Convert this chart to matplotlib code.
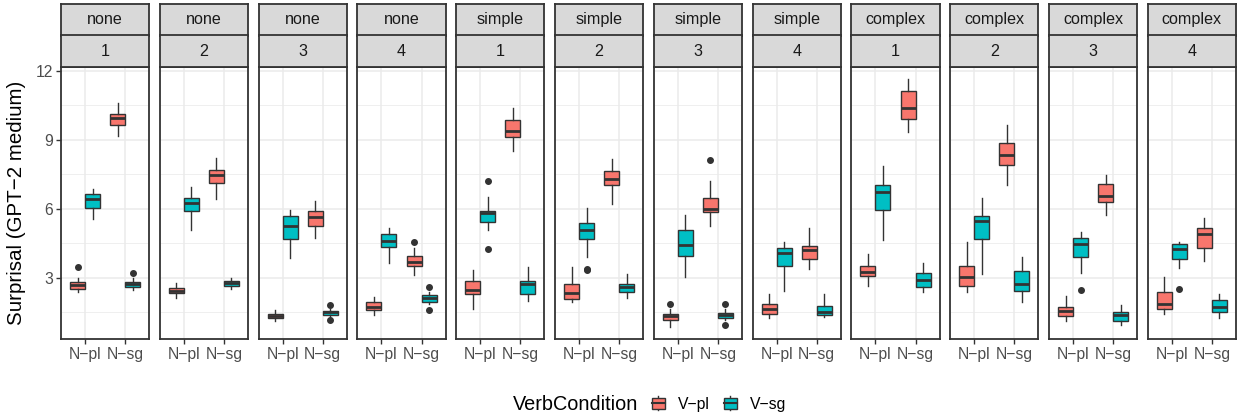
import matplotlib
matplotlib.use("Agg")
import matplotlib.pyplot as plt
from matplotlib.patches import Rectangle
from matplotlib.lines import Line2D
from matplotlib.legend_handler import HandlerBase

plt.rcParams['font.family'] = ['Liberation Sans', 'DejaVu Sans']

# facets
contexts = ['none'] * 4 + ['simple'] * 4 + ['complex'] * 4
numbers = ['1', '2', '3', '4'] * 3
noun_levels = ['N\u2212pl', 'N\u2212sg']
verb_levels = ['V\u2212pl', 'V\u2212sg']
verb_colors = ['#F8766D', '#00BFC4']

# box stats per facet: (whislo, q1, median, q3, whishi)
npl_vpl = [(2.35, 2.52, 2.67, 2.81, 2.96), (2.12, 2.32, 2.42, 2.55, 2.77),
           (1.11, 1.22, 1.32, 1.40, 1.58), (1.36, 1.58, 1.70, 1.94, 2.16),
           (1.61, 2.30, 2.45, 2.84, 3.35), (1.93, 2.06, 2.33, 2.70, 3.47),
           (0.85, 1.17, 1.32, 1.43, 1.65), (1.22, 1.43, 1.61, 1.84, 2.30),
           (2.64, 3.09, 3.25, 3.51, 4.02), (2.38, 2.62, 3.03, 3.49, 4.55),
           (1.11, 1.33, 1.54, 1.70, 2.19), (1.40, 1.61, 1.87, 2.38, 3.03)]
npl_vsg = [(5.54, 6.05, 6.41, 6.66, 6.88), (5.06, 5.89, 6.27, 6.48, 6.95),
           (3.86, 4.66, 5.24, 5.67, 5.93), (3.64, 4.33, 4.58, 4.92, 5.18),
           (5.06, 5.43, 5.82, 5.90, 6.51), (3.90, 4.67, 5.06, 5.38, 6.05),
           (3.03, 3.94, 4.44, 5.06, 5.72), (2.41, 3.51, 4.05, 4.31, 4.53),
           (4.63, 5.96, 6.73, 7.02, 7.86), (3.15, 4.67, 5.47, 5.70, 6.48),
           (3.22, 3.90, 4.48, 4.73, 4.99), (3.42, 3.79, 4.26, 4.48, 4.55)]
nsg_vpl = [(9.17, 9.66, 9.95, 10.14, 10.62), (6.41, 7.14, 7.46, 7.67, 8.20),
           (4.74, 5.25, 5.64, 5.88, 6.34), (3.10, 3.52, 3.68, 3.96, 4.29),
           (8.52, 9.13, 9.39, 9.88, 10.40), (6.22, 7.05, 7.31, 7.63, 8.18),
           (5.25, 5.86, 6.01, 6.48, 7.21), (3.39, 3.79, 4.20, 4.38, 5.14),
           (9.34, 9.91, 10.40, 11.11, 11.64), (7.05, 7.89, 8.33, 8.87, 9.63),
           (5.74, 6.30, 6.56, 7.07, 7.46), (3.71, 4.31, 4.92, 5.16, 5.60)]
nsg_vsg = [(2.48, 2.57, 2.70, 2.81, 2.96), (2.51, 2.65, 2.75, 2.87, 2.96),
           (1.29, 1.39, 1.48, 1.55, 1.65), (1.84, 1.94, 2.09, 2.22, 2.38),
           (1.99, 2.30, 2.70, 2.84, 3.47), (2.09, 2.35, 2.57, 2.70, 3.15),
           (1.14, 1.25, 1.36, 1.46, 1.65), (1.29, 1.36, 1.51, 1.75, 2.28),
           (2.38, 2.57, 2.91, 3.22, 3.65), (1.94, 2.42, 2.71, 3.28, 3.90),
           (0.93, 1.11, 1.36, 1.48, 1.80), (1.22, 1.48, 1.70, 2.04, 2.28)]

# outliers per facet
npl_vpl_out = [[3.44], [], [], [], [], [], [1.84], [], [], [], [], []]
npl_vsg_out = [[], [], [], [], [7.22, 4.26], [3.39, 3.32], [], [], [], [], [2.48], [2.52]]
nsg_vpl_out = [[], [], [], [4.57], [], [], [8.11], [], [], [], [], []]
nsg_vsg_out = [[3.18], [], [1.80, 1.17], [2.57, 1.58], [], [], [1.84, 0.93], [], [], [], [], []]

groups = [(npl_vpl, npl_vpl_out, 0, 0), (npl_vsg, npl_vsg_out, 0, 1),
          (nsg_vpl, nsg_vpl_out, 1, 0), (nsg_vsg, nsg_vsg_out, 1, 1)]

W, H = 1242, 417
fig = plt.figure(figsize=(W / 100, H / 100), dpi=100)

panel_left, panel_right = 61, 1236
gap = 10.6
pw = (panel_right - panel_left - 11 * gap) / 12
p_top, p_bot = 66.7, 339.3
s_top, s_mid = 4.0, 35.5

edge = '#333333'
box_w = 0.375

def fx(px):
    return px / W

def fy(py):
    return 1 - py / H

for i in range(12):
    x0 = panel_left + i * (pw + gap)
    ax = fig.add_axes([fx(x0), fy(p_bot), pw / W, (p_bot - p_top) / H])
    ax.set_facecolor('white')
    ax.set_xlim(0.4, 2.6)
    ax.set_ylim(0.31, 12.19)
    ax.set_yticks([3, 6, 9, 12])
    ax.set_yticks([1.5, 4.5, 7.5, 10.5], minor=True)
    ax.set_xticks([1, 2])
    ax.set_xticklabels(noun_levels)
    ax.grid(which='major', color='#EBEBEB', linewidth=1.1, zorder=0)
    ax.grid(which='minor', axis='y', color='#EBEBEB', linewidth=0.55, zorder=0)
    ax.set_axisbelow(True)
    ax.tick_params(which='minor', length=0)
    ax.tick_params(which='major', length=3.5, width=1.0, color=edge,
                   labelcolor='#4D4D4D', labelsize=11.3, pad=2)
    if i > 0:
        ax.tick_params(axis='y', length=0, labelleft=False)
    for sp in ax.spines.values():
        sp.set_color(edge)
        sp.set_linewidth(1.3)

    for stats_list, out_list, n_idx, v_idx in groups:
        lo, q1, med, q3, hi = stats_list[i]
        st = [dict(whislo=lo, q1=q1, med=med, q3=q3, whishi=hi, fliers=out_list[i])]
        pos = n_idx + 1 + (v_idx - 0.5) * box_w
        ax.bxp(st, positions=[pos], widths=box_w, patch_artist=True,
               showcaps=False, manage_ticks=False,
               boxprops=dict(facecolor=verb_colors[v_idx], edgecolor=edge, linewidth=1.0),
               whiskerprops=dict(color=edge, linewidth=1.0),
               medianprops=dict(color=edge, linewidth=2.0),
               flierprops=dict(marker='o', markersize=4, markerfacecolor=edge,
                               markeredgecolor=edge, linestyle='none'))

    # strips
    for (t, b), label in [((s_top, s_mid), contexts[i]), ((s_mid, p_top), numbers[i])]:
        sax = fig.add_axes([fx(x0), fy(b), pw / W, (b - t) / H])
        sax.set_facecolor('#D9D9D9')
        sax.set_xticks([])
        sax.set_yticks([])
        for sp in sax.spines.values():
            sp.set_color(edge)
            sp.set_linewidth(1.3)
        sax.text(0.5, 0.5, label, ha='center', va='center', fontsize=11.6,
                 color='#1A1A1A', transform=sax.transAxes)

fig.text(fx(17), fy((p_top + p_bot) / 2), 'Surprisal (GPT\u22122 medium)',
         rotation=90, ha='center', va='center', fontsize=14.8, color='black')


class BoxKey(HandlerBase):
    def create_artists(self, legend, orig_handle, xdescent, ydescent,
                       width, height, fontsize, trans):
        cx = width / 2 - xdescent
        bw = width * 0.9
        r = Rectangle((cx - bw / 2, -ydescent + height * 0.12), bw, height * 0.76,
                      facecolor=orig_handle.get_facecolor(), edgecolor=edge,
                      linewidth=1.0, transform=trans)
        m = Line2D([cx - bw / 2, cx + bw / 2], [-ydescent + height / 2] * 2,
                   color=edge, linewidth=1.5, transform=trans)
        w1 = Line2D([cx, cx], [-ydescent, -ydescent + height * 0.12],
                    color=edge, linewidth=1.0, transform=trans)
        w2 = Line2D([cx, cx], [-ydescent + height * 0.88, -ydescent + height],
                    color=edge, linewidth=1.0, transform=trans)
        return [w1, w2, r, m]


handles = [Rectangle((0, 0), 1, 1, facecolor=c) for c in verb_colors]
fig.text(fx(513), fy(404), 'VerbCondition', ha='left', va='center', fontsize=14.3)
fig.legend(handles, verb_levels, handler_map={Rectangle: BoxKey()},
           loc='center left', bbox_to_anchor=(fx(651), fy(404)), ncol=2,
           frameon=False, fontsize=11.3, handlelength=0.95, handleheight=1.0,
           handletextpad=0.75, columnspacing=0.85, borderpad=0, borderaxespad=0)

fig.savefig('out.png', dpi=100)
